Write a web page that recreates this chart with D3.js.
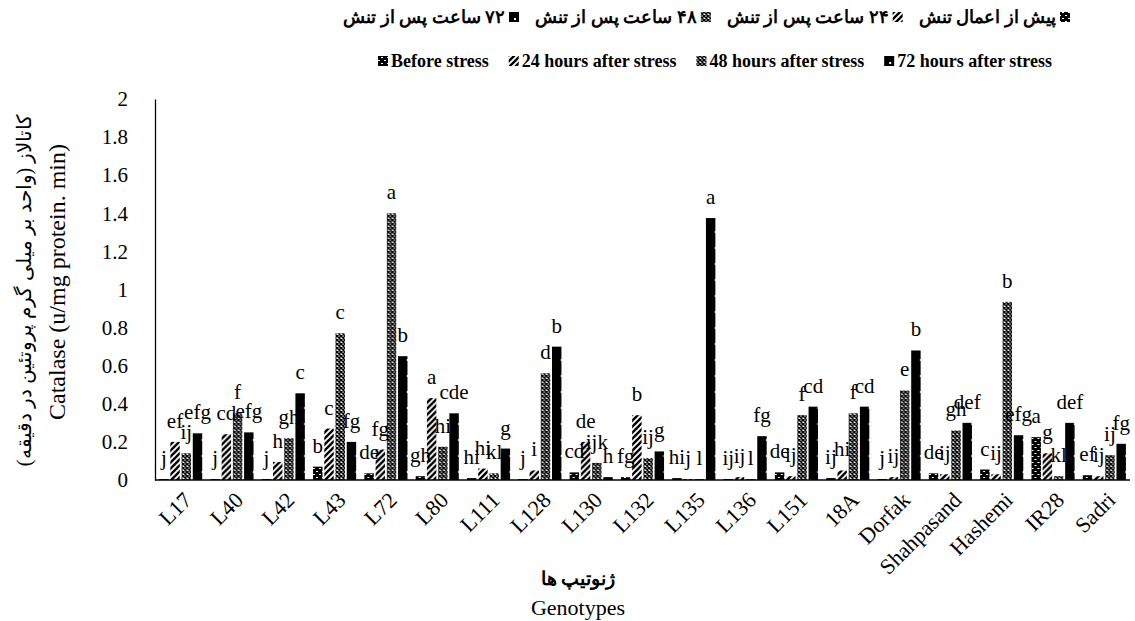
<!DOCTYPE html>
<html>
<head>
<meta charset="utf-8">
<script src="https://cdn.jsdelivr.net/npm/d3@7"></script>
<style>
  body { margin: 0; background: #fff; }
  svg { display: block; }
  text { font-family: "Liberation Serif", "Times New Roman", "DejaVu Serif", serif; fill: #000; }
</style>
</head>
<body>
<svg id="chart" width="1135" height="621"></svg>
<script>
// Catalase activity (u/mg protein. min) per genotype, four sampling times
const genotypes = ["L17", "L40", "L42", "L43", "L72", "L80", "L111", "L128", "L130", "L132",
  "L135", "L136", "L151", "18A", "Dorfak", "Shahpasand", "Hashemi", "IR28", "Sadri"];

const seriesKeys = ["before", "h24", "h48", "h72"];

const beforeStress = [0.005, 0.005, 0.005, 0.07, 0.035, 0.02, 0.01, 0.005, 0.04, 0.015,
  0.01, 0.005, 0.04, 0.01, 0.005, 0.035, 0.055, 0.225, 0.025];
const after24h = [0.2, 0.24, 0.095, 0.27, 0.16, 0.43, 0.06, 0.05, 0.2, 0.34,
  0.005, 0.015, 0.02, 0.05, 0.015, 0.03, 0.03, 0.14, 0.02];
const after48h = [0.14, 0.35, 0.22, 0.77, 1.40, 0.175, 0.035, 0.56, 0.09, 0.115,
  0.005, 0.005, 0.34, 0.35, 0.47, 0.26, 0.935, 0.02, 0.13];
const after72h = [0.245, 0.25, 0.455, 0.2, 0.65, 0.35, 0.165, 0.70, 0.015, 0.15,
  1.375, 0.23, 0.385, 0.385, 0.68, 0.30, 0.235, 0.30, 0.19];

// Mean-separation letters shown above each bar
const lettersBefore = ["j", "j", "j", "b", "de", "gh", "hi", "j", "cd", "fg",
  "hi", "ij", "de", "ij", "j", "de", "c", "a", "ef"];
const letters24h = ["ef", "cd", "h", "c", "fg", "a", "hi", "i", "de", "b",
  "j", "ij", "ij", "hi", "ij", "ij", "ij", "g", "ij"];
const letters48h = ["ij", "f", "gh", "c", "a", "hi", "kl", "d", "ijk", "ij",
  "l", "l", "f", "f", "e", "gh", "b", "kl", "ij"];
const letters72h = ["efg", "efg", "c", "fg", "b", "cde", "g", "b", "h", "g",
  "a", "fg", "cd", "cd", "b", "def", "efg", "def", "fg"];

const legendFa = ["پیش از اعمال تنش", "۲۴ ساعت پس از تنش", "۴۸ ساعت پس از تنش", "۷۲ ساعت پس از تنش"];
const legendEn = ["Before stress", "24 hours after stress", "48 hours after stress", "72 hours after stress"];

const yTicks = [0, 0.2, 0.4, 0.6, 0.8, 1, 1.2, 1.4, 1.6, 1.8, 2];
const yTitleFa = "کاتالاز (واحد بر میلی گرم پروتئین در دقیقه)";
const yTitleEn = "Catalase (u/mg protein. min)";
const xTitleFa = "ژنوتیپ ها";
const xTitleEn = "Genotypes";

// ---------------------------------------------------------------
const valuesByKey = { before: beforeStress, h24: after24h, h48: after48h, h72: after72h };
const lettersByKey = { before: lettersBefore, h24: letters24h, h48: letters48h, h72: letters72h };

const rows = genotypes.map((g, i) => ({
  genotype: g,
  bars: seriesKeys.map(k => ({ key: k, value: valuesByKey[k][i], letter: lettersByKey[k][i] }))
}));

const plot = { left: 155, right: 1130, top: 99, bottom: 480 };
const svg = d3.select("#chart");

const x0 = d3.scaleBand().domain(genotypes).range([plot.left, plot.right])
  .paddingInner(0.16).paddingOuter(0.08);
const x1 = d3.scaleBand().domain(seriesKeys).range([0, x0.bandwidth()])
  .paddingInner(0.16).paddingOuter(0);
const y = d3.scaleLinear().domain([0, 2]).range([plot.bottom, plot.top]);

// Fill patterns for the four series
const defs = svg.append("defs");

const pBefore = defs.append("pattern").attr("id", "pat-before")
  .attr("patternUnits", "userSpaceOnUse").attr("width", 6).attr("height", 6);
pBefore.append("rect").attr("width", 6).attr("height", 6).attr("fill", "#000");
pBefore.append("path").attr("d", "M0,0h2v1h-2zM3,3h2v1h-2z").attr("fill", "#fff");

const p24 = defs.append("pattern").attr("id", "pat-h24")
  .attr("patternUnits", "userSpaceOnUse").attr("width", 6).attr("height", 6);
p24.append("rect").attr("width", 6).attr("height", 6).attr("fill", "#fff");
p24.append("path").attr("d", "M-1,7L7,-1M-4,4L4,-4M2,10L10,2")
  .attr("stroke", "#000").attr("stroke-width", 2.4);

const p48 = defs.append("pattern").attr("id", "pat-h48")
  .attr("patternUnits", "userSpaceOnUse").attr("width", 4).attr("height", 4);
p48.append("rect").attr("width", 4).attr("height", 4).attr("fill", "#fff");
p48.append("path").attr("d", "M0,0L4,4M4,0L0,4").attr("stroke", "#000").attr("stroke-width", 1.5);

// solid black with a column of white dots down the middle of each bar
const p72 = defs.append("pattern").attr("id", "pat-h72")
  .attr("patternUnits", "userSpaceOnUse")
  .attr("x", x0(genotypes[0]) + x1("h72"))
  .attr("y", plot.bottom)
  .attr("width", x0.step()).attr("height", 16);
p72.append("rect").attr("width", x0.step()).attr("height", 16).attr("fill", "#000");
p72.append("rect").attr("x", x1.bandwidth() / 2 - 1).attr("y", 7).attr("width", 2).attr("height", 2).attr("fill", "#fff");

// small legend swatch version of the dotted fill
const p72s = defs.append("pattern").attr("id", "pat-h72-sw")
  .attr("patternUnits", "objectBoundingBox").attr("width", 1).attr("height", 1);
p72s.append("rect").attr("width", 11).attr("height", 11).attr("fill", "#000");
p72s.append("rect").attr("x", 5).attr("y", 6).attr("width", 2).attr("height", 2).attr("fill", "#fff");

const fillFor = { before: "url(#pat-before)", h24: "url(#pat-h24)", h48: "url(#pat-h48)", h72: "url(#pat-h72)" };
const swatchFill = { before: "url(#pat-before)", h24: "url(#pat-h24)", h48: "url(#pat-h48)", h72: "url(#pat-h72-sw)" };

// Bars
const groups = svg.append("g").selectAll("g").data(rows).join("g")
  .attr("transform", d => `translate(${x0(d.genotype)},0)`);

groups.selectAll("rect").data(d => d.bars).join("rect")
  .attr("x", d => x1(d.key))
  .attr("y", d => y(d.value))
  .attr("width", x1.bandwidth())
  .attr("height", d => y(0) - y(d.value))
  .attr("fill", d => fillFor[d.key]);

// Letters above bars
groups.selectAll("text").data(d => d.bars).join("text")
  .attr("x", d => x1(d.key) + x1.bandwidth() / 2)
  .attr("y", d => y(d.value) - 14)
  .attr("text-anchor", "middle")
  .style("font-size", "21px")
  .text(d => d.letter);

// Y axis
const yAxis = svg.append("g").attr("transform", `translate(${plot.left},0)`)
  .call(d3.axisLeft(y).tickValues(yTicks).tickSize(0).tickSizeOuter(0).tickPadding(27)
    .tickFormat(d3.format("~g")));
yAxis.select(".domain").attr("stroke", "#000").attr("stroke-width", 1.3);
yAxis.selectAll(".tick text").style("font-size", "21px").attr("font-family", null);

// X axis
const xAxis = svg.append("g").attr("transform", `translate(0,${plot.bottom})`)
  .call(d3.axisBottom(x0).tickSize(0).tickSizeOuter(0));
xAxis.select(".domain").attr("stroke", "#000").attr("stroke-width", 1.3)
  .attr("d", `M${plot.left},0H${plot.right}`);
xAxis.selectAll(".tick text")
  .attr("font-family", null)
  .style("font-size", "22px")
  .attr("text-anchor", "end")
  .attr("dy", "0.35em")
  .attr("y", 0)
  .attr("transform", "translate(7,16) rotate(-45)");

// Axis titles
svg.append("text")
  .attr("transform", `translate(24,290) rotate(-90)`)
  .attr("text-anchor", "middle").attr("direction", "rtl").attr("dy", "0.35em")
  .style("font-size", "20px")
  .text(yTitleFa);
svg.append("text")
  .attr("transform", `translate(57,282) rotate(-90)`)
  .attr("text-anchor", "middle").attr("dy", "0.35em")
  .style("font-size", "24px")
  .text(yTitleEn);

svg.append("text").attr("x", 578).attr("y", 578).attr("dy", "0.35em")
  .attr("text-anchor", "middle").style("font-size", "19px").style("font-weight", "bold")
  .text("\u200F" + xTitleFa + "\u200F");
svg.append("text").attr("x", 578).attr("y", 607).attr("dy", "0.35em")
  .attr("text-anchor", "middle").style("font-size", "22px")
  .text(xTitleEn);

// Legend: Persian row (right to left) and English row (left to right)
const legend = svg.append("g");
const sw = 10;

// English row spans 378 .. 1052
{
  const left = 378, right = 1052, yc = 61;
  const items = seriesKeys.map((k, i) => {
    const r = legend.append("rect").attr("y", yc - sw / 2).attr("width", sw).attr("height", sw)
      .attr("fill", swatchFill[k]);
    const t = legend.append("text").attr("y", yc).attr("dy", "0.35em")
      .style("font-weight", "bold").style("font-size", "18px").text(legendEn[i]);
    return { r, t, w: sw + 3 + t.node().getComputedTextLength() };
  });
  const gap = (right - left - d3.sum(items, d => d.w)) / (items.length - 1);
  let cx = left;
  items.forEach(it => {
    it.r.attr("x", cx);
    it.t.attr("x", cx + sw + 3);
    cx += it.w + gap;
  });
}

// Persian row spans 343 .. 1070, first entry at the right end
{
  const left = 343, right = 1070, yc = 17;
  const items = seriesKeys.map((k, i) => {
    const r = legend.append("rect").attr("y", yc - sw / 2).attr("width", sw).attr("height", sw)
      .attr("fill", swatchFill[k]);
    const t = legend.append("text").attr("y", yc).attr("dy", "0.35em")
      .attr("text-anchor", "end").style("font-size", "18px").style("font-weight", "bold")
      .text("\u200F" + legendFa[i] + "\u200F");
    return { r, t, w: sw + 4 + t.node().getComputedTextLength() };
  });
  const gap = (right - left - d3.sum(items, d => d.w)) / (items.length - 1);
  let rx = right;
  items.forEach(it => {
    it.r.attr("x", rx - sw);
    it.t.attr("x", rx - sw - 4);
    rx -= it.w + gap;
  });
}
</script>
</body>
</html>
